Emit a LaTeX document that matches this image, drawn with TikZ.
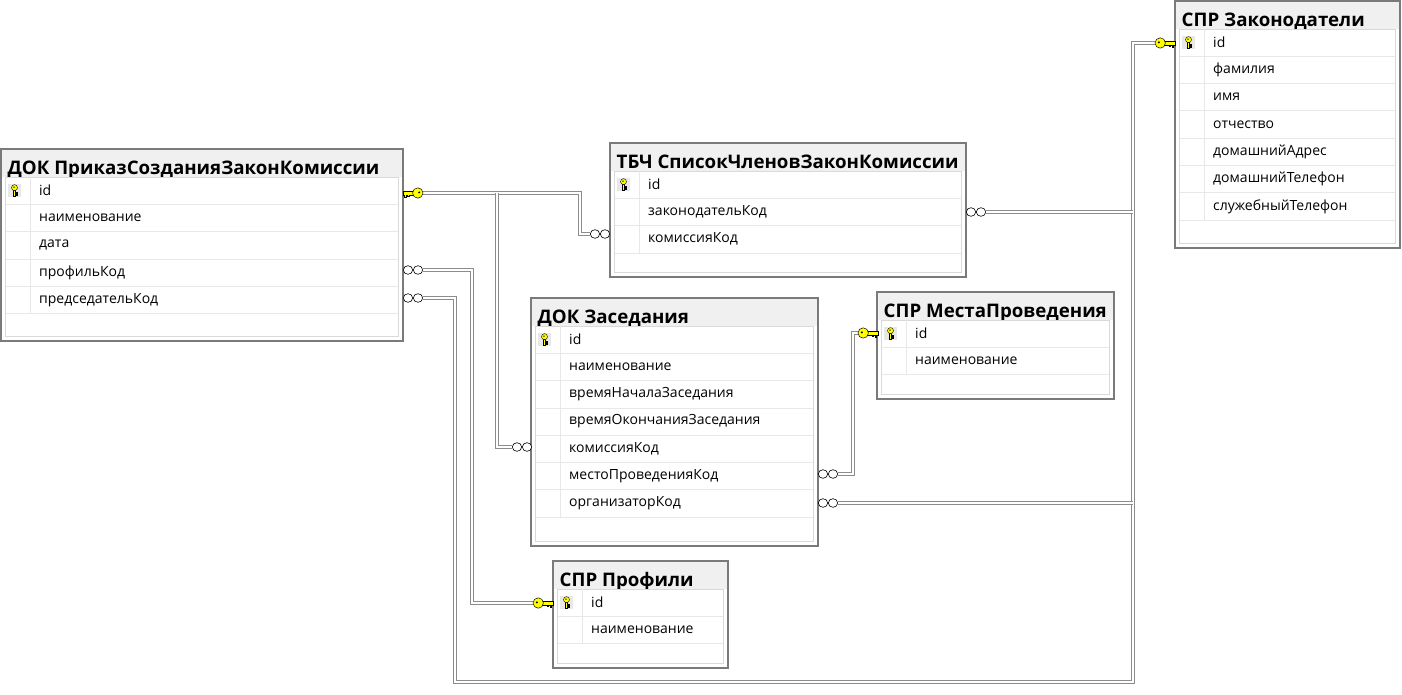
\documentclass[tikz,border=0pt]{standalone}
\usepackage{fontspec}
\setmainfont{Open Sans}
\usetikzlibrary{calc}
\definecolor{titlebg}{HTML}{F0F0F0}
\definecolor{bordergray}{HTML}{7A7A7A}
\definecolor{sepgray}{HTML}{E8E8E8}
\definecolor{keyyellow}{HTML}{FFFF00}
\definecolor{relgray}{HTML}{8C8C8C}
\tikzset{
  tblborder/.style={draw=bordergray, line width=1.5pt, fill=white},
  titlebar/.style={fill=titlebg},
  innerbox/.style={draw=gray!30, line width=0.6pt},
  rowsep/.style={draw=sepgray, line width=0.8pt},
  titletext/.style={anchor=base west, inner sep=0pt, font=\bfseries\fontsize{18.7}{20}\selectfont},
  coltext/.style={anchor=west, inner sep=0pt, font=\fontsize{14}{16}\selectfont},
  rel/.style={draw=relgray, double=white, double distance=1.4pt, line width=1.4pt},
  keyshape/.style={fill=keyyellow, draw=black, line width=0.5pt},
  manyshape/.style={fill=white, draw=black, line width=0.6pt},
  keybg/.style={fill=gray!18},
}
% #1 name, #2 x0, #3 y0, #4 x1, #5 y1, #6 title, #7 rows
\newcommand\dbtable[7]{%
  \path[tblborder] (#2,#3) rectangle (#4,#5);
  \path[titlebar] (#2+0.75,#3+0.75) rectangle (#4-0.75,#3+28);
  \begin{scope}
    \clip (#2,#3) rectangle (#4-2,#3+28);
    \node[titletext] (#1-title) at (#2+6.5,#3+25.5) {#6};
  \end{scope}
  \path[innerbox] (#2+4.5,#3+28) rectangle (#4-4.5,#5-4.5);
  \foreach \r [count=\i] in {#7} {
    \pgfmathsetmacro\ry{#3+28+(\i-0.5)*27.3}
    \pgfmathsetmacro\rt{#3+28+(\i-1)*27.3}
    \pgfmathsetmacro\rs{#3+28+\i*27.3}
    \draw[rowsep] (#2+5,\rs) -- (#4-5,\rs);
    \draw[rowsep] (#2+29,\rt) -- (#2+29,\rs);
    \ifnum\i=1
      \path[keybg] (#2+7,\ry-6.5) rectangle (#2+20,\ry+6.5);
      \path[keyshape, line width=0.4pt] (#2+12.5,\ry-0.5) -- (#2+12.5,\ry+5.5) -- (#2+14.5,\ry+5.5) -- (#2+14.5,\ry+4.5) -- (#2+16,\ry+4.5) -- (#2+16,\ry+3.5) -- (#2+14.5,\ry+3.5) -- (#2+14.5,\ry+2.5) -- (#2+16,\ry+2.5) -- (#2+16,\ry+1.5) -- (#2+14.5,\ry+1.5) -- (#2+14.5,\ry-0.5) -- cycle;
      \path[keyshape, line width=0.4pt] (#2+13.5,\ry-3) circle (3);
      \fill (#2+13,\ry-3.5) circle (0.8);
    \fi
    \node[coltext] (#1-\i) at (#2+38,\ry) {\r};
  }
}
% big key: #1 name, #2 x (line side), #3 y, #4 direction (1: shaft to the right)
\newcommand\bigkey[4]{%
  \coordinate (#1) at (#2,#3);
  \begin{scope}[shift={(#2,#3)}, xscale=#4]
    \path[keyshape] (9,-2) -- (20,-2) -- (20,2) -- (18.5,2) -- (18.5,4.2) -- (17,4.2) -- (17,2) -- (15.5,2) -- (15.5,3.4) -- (14,3.4) -- (14,2) -- (9,2) -- cycle;
    \path[keyshape] (5.2,0) circle (5.2);
    \fill (3.8,-0.6) circle (1.1);
  \end{scope}
}
% many symbol: #1 name, #2 x left, #3 y
\newcommand\many[3]{%
  \coordinate (#1-w) at (#2,#3);
  \coordinate (#1-e) at (#2+20,#3);
  \path[manyshape] (#2+5,#3) ellipse (4.7 and 4.3);
  \path[manyshape] (#2+15,#3) ellipse (4.7 and 4.3);
}
\begin{document}
\begin{tikzpicture}[x=1pt,y=-1pt]
\useasboundingbox (0,0) rectangle (1402,695);
\fill[white] (0,0) rectangle (1402,695);

\dbtable{prikaz}{1}{149}{403}{341}{ДОК ПриказСозданияЗаконКомиссии}{id,наименование,дата,профильКод,председательКод}
\dbtable{tbch}{610}{143}{966}{277}{ТБЧ СписокЧленовЗаконКомиссии}{id,законодательКод,комиссияКод}
\dbtable{zakon}{1175}{1}{1400}{248}{СПР Законодатели}{id,фамилия,имя,отчество,домашнийАдрес,домашнийТелефон,служебныйТелефон}
\dbtable{zased}{531}{298}{818}{546}{ДОК Заседания}{id,наименование,времяНачалаЗаседания,времяОкончанияЗаседания,комиссияКод,местоПроведенияКод,организаторКод}
\dbtable{mesta}{877}{292}{1114}{399}{СПР МестаПроведения}{id,наименование}
\dbtable{prof}{553}{561}{728}{668}{СПР Профили}{id,наименование}

% end points
\coordinate (kpr) at (423,193);
\coordinate (kprof) at (533,603);
\coordinate (kzak) at (1155,43);
\coordinate (kmest) at (858,333);
\coordinate (bus) at ($(kzak)+(-22,0)$);
\coordinate (mprprof-e) at (423,270);
\coordinate (mprpred-e) at (423,298);
\coordinate (mtbkom-w) at (590,234);
\coordinate (mtbzak-e) at (986,212);
\coordinate (mzkom-w) at (512,447);
\coordinate (mzmest-e) at (838,474);
\coordinate (mzorg-e) at (838,503);

% connectors
\draw[rel] (kpr) -| ($(mtbkom-w)+(-10,0)$) -- (mtbkom-w);
\draw[rel] ($(kpr)+(74,0)$) |- (mzkom-w);
\draw[rel] (mprprof-e) -- ++(49,0) |- (kprof);
\draw[rel] (mprpred-e) -- ++(32,0) -- ++(0,384) -| (bus) -- (kzak);
\draw[rel] (mtbzak-e) -- (mtbzak-e -| bus);
\draw[rel] (mzorg-e) -- (mzorg-e -| bus);
\draw[rel] (mzmest-e) -- ++(15,0) |- (kmest);

% symbols
\bigkey{kprs}{423}{193}{-1}
\bigkey{kprofs}{533}{603}{1}
\bigkey{kzaks}{1155}{43}{1}
\bigkey{kmests}{858}{333}{1}
\many{mprprof}{403}{270}
\many{mprpred}{403}{298}
\many{mtbkom}{590}{234}
\many{mtbzak}{966}{212}
\many{mzkom}{512}{447}
\many{mzmest}{818}{474}
\many{mzorg}{818}{503}
\end{tikzpicture}
\end{document}
